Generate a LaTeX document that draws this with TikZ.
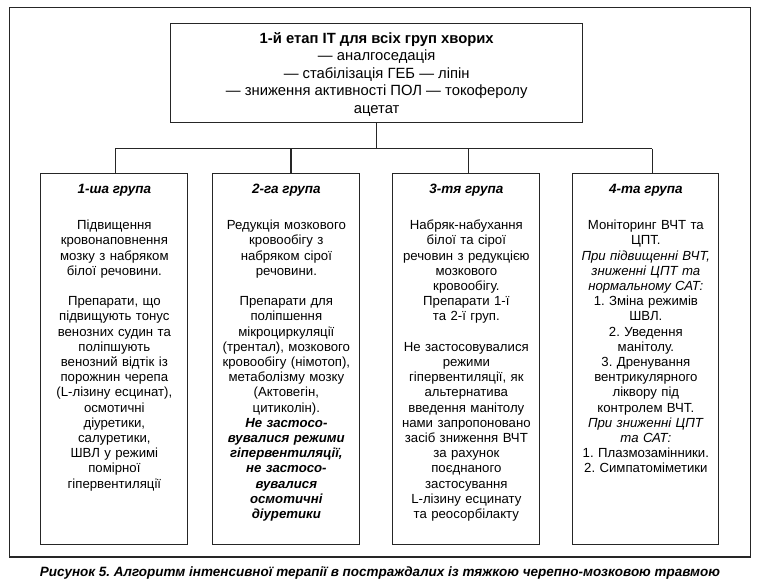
\documentclass[tikz,border=0pt]{standalone}
\usepackage{fontspec}
\setmainfont{Liberation Sans}
\usepackage{graphicx}
\frenchspacing
\begin{document}
\begin{tikzpicture}[x=1pt,y=-1pt,
  line/.style={draw=black!85, line width=1.1pt},
  box/.style={draw=black!85, line width=1.1pt, anchor=north west, inner sep=0, minimum height=370.7pt},
  ttl/.style={anchor=base, inner sep=0, font=\fontsize{13.5}{15.2}\selectfont\bfseries\itshape},
  body/.style={anchor=north, inner sep=0, align=center, text width=144pt, font=\fontsize{13.2}{15.2}\selectfont},
  toptxt/.style={anchor=north, inner sep=0, align=center, font=\fontsize{14.8}{17.5}\selectfont}]
\useasboundingbox (0,0) rectangle (759,582);
% outer frame
\draw[line] (9.3,7.3) rectangle (750.7,557);
% top box
\node[box, minimum width=412.3pt, minimum height=98.7pt] (top) at (170,23.3) {};
\node[toptxt] (toptext) at ([yshift=-7.5pt]top.north) {\strut\textbf{1-й етап IT для всіх груп хворих}\\
— аналгоседація\\
— стабілізація ГЕБ — ліпін\\
— зниження активності ПОЛ — токоферолу\\
ацетат};
% group boxes
\node[box, minimum width=147pt] (g1) at (40.3,173.3) {};
\node[box, minimum width=147pt] (g2) at (212.3,173.3) {};
\node[box, minimum width=147pt] (g3) at (392.3,173.3) {};
\node[box, minimum width=146pt] (g4) at (572.3,173.3) {};
% bus
\coordinate (c1) at (115.3,148.7);
\coordinate (c2) at (291,148.7);
\coordinate (c3) at (468.3,148.7);
\coordinate (c4) at (652.3,148.7);
\draw[line] (top.south) -- (top.south |- c1);
\draw[line] (c1) -- (c4);
\draw[line] (c1) -- (c1 |- g1.north);
\draw[line] (c2) -- (c2 |- g2.north);
\draw[line] (c3) -- (c3 |- g3.north);
\draw[line] (c4) -- (c4 |- g4.north);
% titles
\node[ttl] (t1) at ([yshift=-20.2pt]g1.north) {1-ша група};
\node[ttl] (t2) at ([yshift=-20.2pt]g2.north) {2-га група};
\node[ttl] (t3) at ([yshift=-20.2pt]g3.north) {3-тя група};
\node[ttl] (t4) at ([yshift=-20.2pt]g4.north) {4-та група};
% bodies
\node[body] (b1) at ([yshift=-45.6pt]g1.north) {\strut Підвищення\\
кровонаповнення\\
мозку з набряком\\
білої речовини.\\[15.2pt]
Препарати, що\\
підвищують тонус\\
венозних судин та\\
поліпшують\\
венозний відтік із\\
порожнин черепа\\
(L-лізину есцинат),\\
осмотичні\\
діуретики,\\
салуретики,\\
ШВЛ у режимі\\
помірної\\
гіпервентиляції};
\node[body] (b2) at ([yshift=-45.6pt]g2.north) {\strut Редукція мозкового\\
кровообігу з\\
набряком сірої\\
речовини.\\[15.2pt]
Препарати для\\
поліпшення\\
мікроциркуляції\\
(трентал), мозкового\\
кровообігу (німотоп),\\
метаболізму мозку\\
(Актовегін,\\
цитиколін).\\
\textbf{\textit{Не застосо-}}\\
\textbf{\textit{вувалися режими}}\\
\textbf{\textit{гіпервентиляції,}}\\
\textbf{\textit{не застосо-}}\\
\textbf{\textit{вувалися}}\\
\textbf{\textit{осмотичні}}\\
\textbf{\textit{діуретики}}};
\node[body] (b3) at ([yshift=-45.6pt]g3.north) {\strut Набряк-набухання\\
білої та сірої\\
речовин з редукцією\\
мозкового\\
кровообігу.\\
Препарати 1-ї\\
та 2-ї груп.\\[15.2pt]
Не застосовувалися\\
режими\\
гіпервентиляції, як\\
альтернатива\\
введення манітолу\\
нами запропоновано\\
засіб зниження ВЧТ\\
за рахунок\\
поєднаного\\
застосування\\
L-лізину есцинату\\
та реосорбілакту};
\node[body] (b4) at ([yshift=-45.6pt]g4.north) {\strut Моніторинг ВЧТ та\\
ЦПТ.\\
\textit{При підвищенні ВЧТ,}\\
\textit{зниженні ЦПТ та}\\
\textit{нормальному САТ:}\\
1. Зміна режимів\\
ШВЛ.\\
2. Уведення\\
манітолу.\\
3. Дренування\\
вентрикулярного\\
ліквору під\\
контролем ВЧТ.\\
\textit{При зниженні ЦПТ}\\
\textit{та САТ:}\\
1. Плазмозамінники.\\
2. Симпатоміметики};
% caption
\node[anchor=base, inner sep=0, font=\fontsize{14}{16}\selectfont\bfseries\itshape] (cap) at (380,576) {\resizebox{680pt}{!}{Рисунок 5. Алгоритм інтенсивної терапії в постраждалих із тяжкою черепно-мозковою травмою}};
\end{tikzpicture}
\end{document}
